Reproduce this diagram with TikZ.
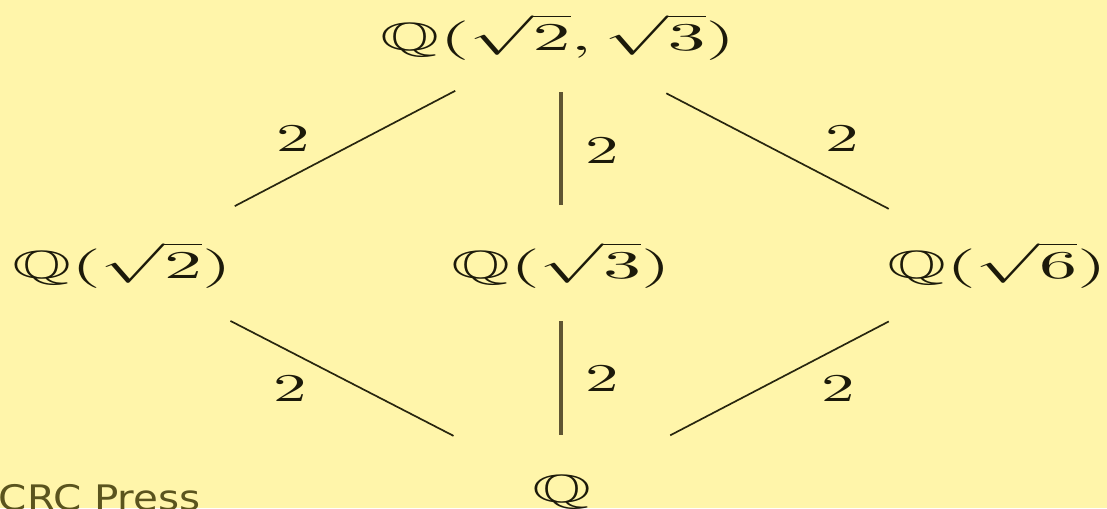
\documentclass[tikz,border=0pt]{standalone}
\usepackage{fontspec}
\usepackage{amssymb}
\newfontfamily\pressfont{DejaVu Sans}
\definecolor{bgyellow}{RGB}{255,245,170}
\definecolor{inkdark}{RGB}{28,26,10}
\definecolor{lineolive}{RGB}{40,38,15}
\definecolor{barolive}{RGB}{95,85,50}
\definecolor{pressolive}{RGB}{90,84,30}

\begin{document}
\begin{tikzpicture}[
    x=0.025cm, y=-0.025cm,
    field/.style={inner sep=0pt, text=inkdark, xscale=5.4, yscale=2.8},
    lab/.style={inner sep=0pt, text=inkdark, xscale=4.76, yscale=2.8},
    edge/.style={draw=lineolive, line width=1.2pt, shorten <=3.05cm, shorten >=3.05cm},
    vline/.style={draw=barolive, line width=2.4pt}
]

\fill[bgyellow] (0,0) rectangle (1107,508);
\useasboundingbox (0,0) rectangle (1107,508);

% Fields
\node[field, anchor=base] (top)   at (558,50)  {$\mathbb{Q}(\sqrt{2}, \sqrt{3})$};
\node[field, anchor=base] (two)   at (122,278) {$\mathbb{Q}(\sqrt{2})$};
\node[field, anchor=base] (three) at (561,278) {$\mathbb{Q}(\sqrt{3})$};
\node[field, anchor=base] (six)   at (997,278) {$\mathbb{Q}(\sqrt{6})$};
\node[field, anchor=base] (rat)   at (562,502) {$\mathbb{Q}$};

% Extensions
\draw[edge, shorten <=2.9cm, shorten >=3.18cm] (top.center) -- (two.center);
\draw[edge] (top.center) -- (six.center);
\draw[edge] (two.center) -- (rat.center);
\draw[edge] (six.center) -- (rat.center);
\draw[vline, shorten <=1.5cm, shorten >=1.38cm] (three.center) -- (three.center |- top.center);
\draw[vline, shorten <=1.4cm, shorten >=1.43cm] (three.center) -- (three.center |- rat.center);

% Degrees
\node[lab] (d1) at (293,138) {2};
\node[lab] (d2) at (842,138) {2};
\node[lab] (d3) at (602,150) {2};
\node[lab] (d4) at (290,388) {2};
\node[lab] (d5) at (602,378) {2};
\node[lab] (d6) at (838,388) {2};

\node[anchor=base west, inner sep=0pt, text=pressolive, font=\pressfont, xscale=2.875, yscale=2.5] (crc) at (-2,510) {CRC Press};

\end{tikzpicture}
\end{document}
